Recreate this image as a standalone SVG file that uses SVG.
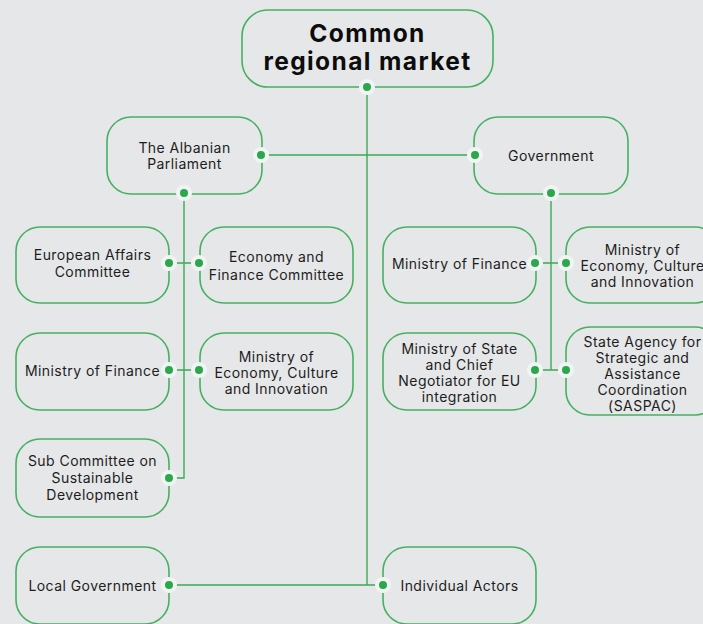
<svg xmlns="http://www.w3.org/2000/svg" width="703" height="624" viewBox="0 0 703 624">
<style>
.bg{fill:#e6e7e9}
.box{fill:#e6e7e9;stroke:#45b160;stroke-width:1.6}
.ln{fill:none;stroke:#3aaa55;stroke-width:1.4}
.halo{fill:#f2f3f3}
.dot{fill:#2aa84c}
text{font-family:Inter,"Liberation Sans",sans-serif;font-size:14px;letter-spacing:0.45px;fill:#1d1d1d;text-anchor:middle;dominant-baseline:central}
.title{font-size:24.5px;letter-spacing:1.4px;font-weight:700;fill:#0c0c0c}
</style>
<defs>
<g id="pt"><circle class="halo" r="8"/><circle class="dot" r="4"/></g>
</defs>
<rect class="bg" width="703" height="624"/>
<g id="connectors">
<path class="ln" d="M367,87 V585 M169,585 H383"/>
<path class="ln" d="M261,155 H475"/>
<path class="ln" d="M184,193 V478 H169 M169,263 H199 M169,370 H199"/>
<path class="ln" d="M551,194 V370 M535,263 H566 M535,370 H566"/>
</g>
<g id="n-common"><rect class="box" x="242" y="10" width="251" height="77" rx="26"/><text class="title" x="367.5" y="33">Common</text><text class="title" x="367.5" y="61">regional market</text></g>
<g id="n-parliament"><rect class="box" x="107" y="117" width="155" height="77" rx="24"/><text x="184.5" y="147">The Albanian</text><text x="184.5" y="163">Parliament</text></g>
<g id="n-government"><rect class="box" x="474" y="117" width="154" height="77" rx="24"/><text x="551" y="155">Government</text></g>
<g id="n-eac"><rect class="box" x="16" y="227" width="153" height="76" rx="24"/><text x="92.5" y="254">European Affairs</text><text x="92.5" y="271">Committee</text></g>
<g id="n-efc"><rect class="box" x="200" y="227" width="153" height="76" rx="24"/><text x="276.5" y="256">Economy and</text><text x="276.5" y="274">Finance Committee</text></g>
<g id="n-mof-l"><rect class="box" x="16" y="333" width="153" height="77" rx="24"/><text x="92.5" y="370">Ministry of Finance</text></g>
<g id="n-meci-l"><rect class="box" x="200" y="333" width="153" height="77" rx="24"/><text x="276.5" y="356">Ministry of</text><text x="276.5" y="372">Economy, Culture</text><text x="276.5" y="388">and Innovation</text></g>
<g id="n-sub"><rect class="box" x="16" y="439" width="153" height="78" rx="24"/><text x="92.5" y="460">Sub Committee on</text><text x="92.5" y="477">Sustainable</text><text x="92.5" y="494">Development</text></g>
<g id="n-local"><rect class="box" x="16" y="547" width="153" height="77" rx="24"/><text x="92.5" y="585">Local Government</text></g>
<g id="n-mof-r"><rect class="box" x="383" y="227" width="153" height="76" rx="24"/><text x="459.5" y="263">Ministry of Finance</text></g>
<g id="n-meci-r"><rect class="box" x="566" y="227" width="153" height="76" rx="24"/><text x="642.5" y="249">Ministry of</text><text x="642.5" y="265">Economy, Culture</text><text x="642.5" y="281">and Innovation</text></g>
<g id="n-mos"><rect class="box" x="383" y="333" width="153" height="77" rx="24"/><text x="459.5" y="348">Ministry of State</text><text x="459.5" y="364">and Chief</text><text x="459.5" y="380">Negotiator for EU</text><text x="459.5" y="396">integration</text></g>
<g id="n-saspac"><rect class="box" x="566" y="327" width="153" height="88" rx="24"/><text x="642.5" y="341">State Agency for</text><text x="642.5" y="357">Strategic and</text><text x="642.5" y="373">Assistance</text><text x="642.5" y="389">Coordination</text><text x="642.5" y="405">(SASPAC)</text></g>
<g id="n-ind"><rect class="box" x="383" y="547" width="153" height="77" rx="24"/><text x="459.5" y="585">Individual Actors</text></g>
<g id="dots">
<use href="#pt" x="367" y="87"/>
<use href="#pt" x="261" y="155"/><use href="#pt" x="184" y="193"/>
<use href="#pt" x="475" y="155"/><use href="#pt" x="551" y="193"/>
<use href="#pt" x="169" y="263"/><use href="#pt" x="199" y="263"/>
<use href="#pt" x="169" y="370"/><use href="#pt" x="199" y="370"/>
<use href="#pt" x="169" y="478"/><use href="#pt" x="169" y="585"/>
<use href="#pt" x="535" y="263"/><use href="#pt" x="566" y="263"/>
<use href="#pt" x="535" y="370"/><use href="#pt" x="566" y="370"/>
<use href="#pt" x="383" y="585"/>
</g>
</svg>
